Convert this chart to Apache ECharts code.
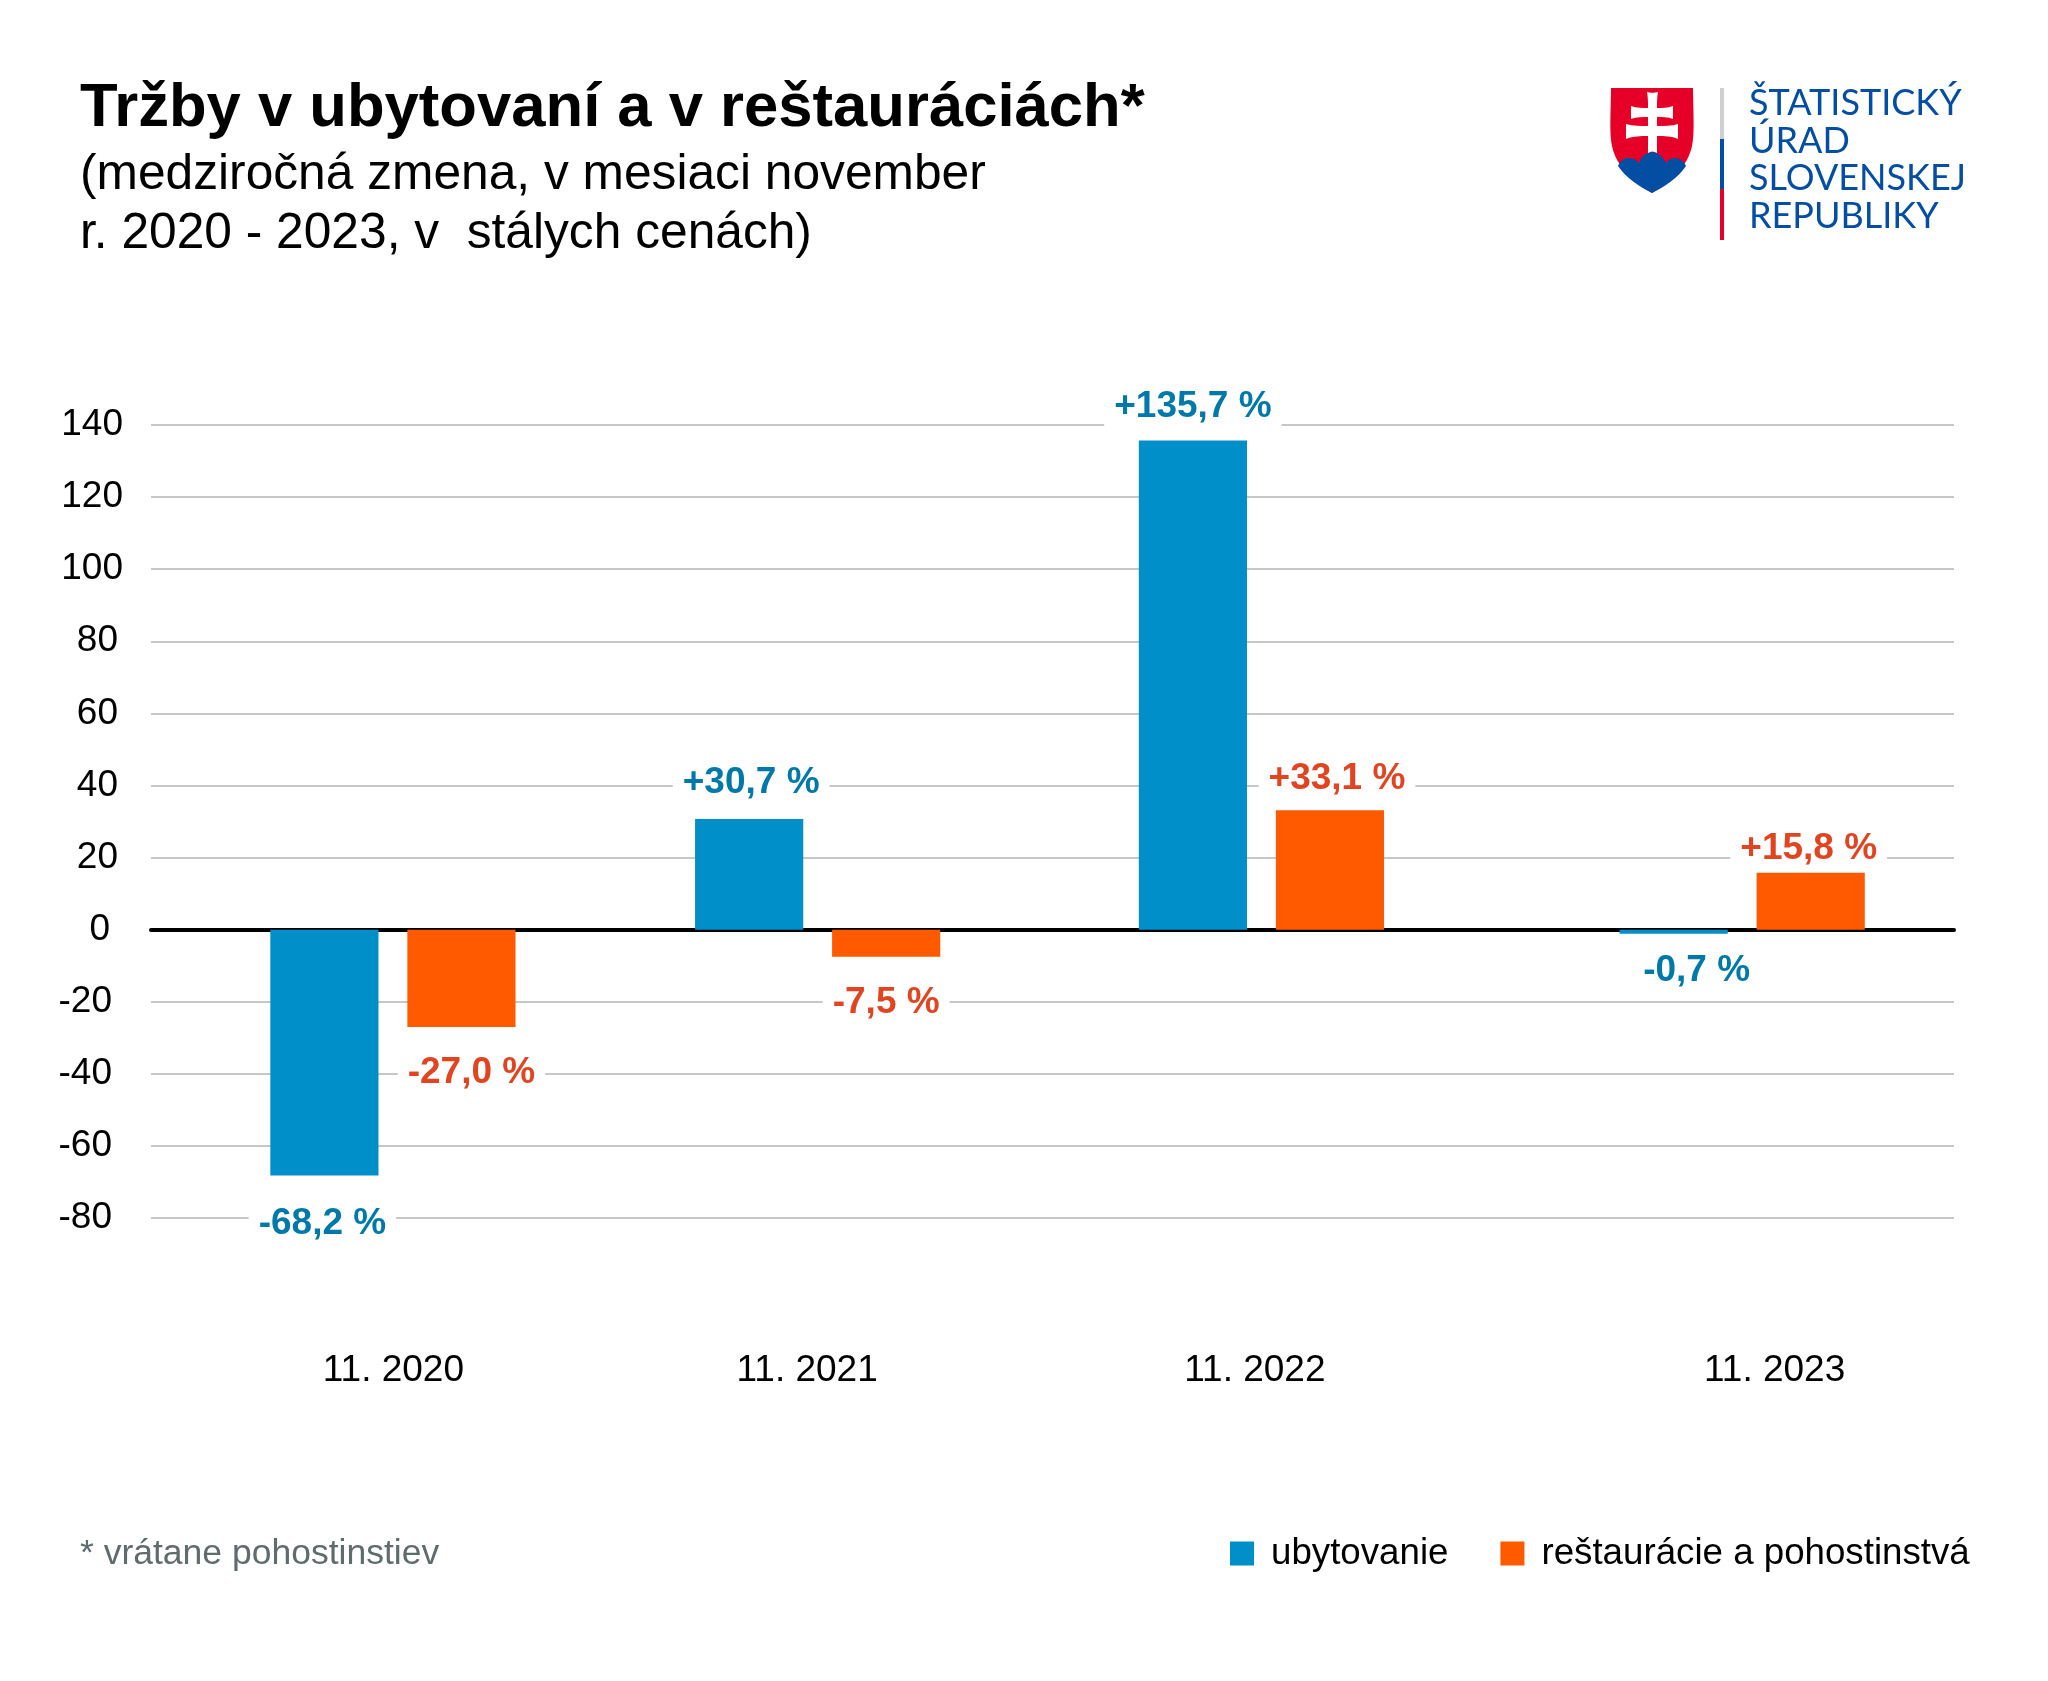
<!DOCTYPE html>
<html>
<head>
<meta charset="utf-8">
<style>html,body{margin:0;padding:0;background:#fff}#c{width:2048px;height:1681px}</style>
<script src="https://cdn.jsdelivr.net/npm/echarts@6/dist/echarts.min.js"></script>
</head>
<body>
<div id="c"></div>
<script>
const categories = ['11. 2020', '11. 2021', '11. 2022', '11. 2023'];
const ubytovanie = [-68.2, 30.7, 135.7, -0.7];
const restauracie = [-27.0, -7.5, 33.1, 15.8];
const seriesNames = ['ubytovanie', 'reštaurácie a pohostinstvá'];
const titleText = 'Tržby v ubytovaní a v reštauráciách*';
const subtitleText = '(medziročná zmena, v mesiaci november\nr. 2020 - 2023, v  stálych cenách)';
const footnoteText = '* vrátane pohostinstiev';
const logoLines = ['ŠTATISTICKÝ', 'ÚRAD', 'SLOVENSKEJ', 'REPUBLIKY'];

// layout nudges (px), separate from the data
const groupNudge = [17, -9, -16, 14];
const tickNudge = [17, -20, -23, 46];
const labelDx = [[-2, 2, 0, 23], [10, 0, 7, -2]];
const labelGap = [[48, 36, 34, 37], [46, 46, 32, 24]];

const FONT = '"Liberation Sans", Arial, sans-serif';
const BLUE = '#008FC8', ORANGE = '#FF5A00', BLUE_T = '#0079A8', ORANGE_T = '#E04420';

function fmt(v) { return (v > 0 ? '+' : '') + v.toFixed(1).replace('.', ',') + ' %'; }

function barRender(seriesIdx, color, textColor) {
  return function (params, api) {
    const i = api.value(0), v = api.value(1);
    const band = api.size([1, 0])[0];
    const w = band * 0.24;
    const base = api.coord([i, 0]);
    const end = api.coord([i, v]);
    const cx = base[0] + groupNudge[i] + (seriesIdx === 0 ? -band * 0.153 : band * 0.151);
    const top = Math.min(base[1], end[1]), h = Math.max(Math.abs(end[1] - base[1]), 4);
    const ly = v >= 0 ? top - labelGap[seriesIdx][i] : top + h + labelGap[seriesIdx][i];
    return {
      type: 'group',
      children: [
        { type: 'rect', shape: { x: cx - w / 2, y: top, width: w, height: h }, style: { fill: color } },
        { type: 'text', z2: 5, style: {
            text: fmt(v), x: cx + labelDx[seriesIdx][i], y: ly, align: 'center', verticalAlign: 'middle',
            fill: textColor, font: 'bold 37px ' + FONT, backgroundColor: '#fff', padding: [1, 10, 1, 10]
        } }
      ]
    };
  };
}

echarts.graphic.registerShape('shieldBase', echarts.graphic.extendPath('M1 0H83C83 22 85 44 82 58C78 78 60 95 42 105C24 95 6 78 2 58C-1 44 1 22 1 0Z', {}));
echarts.graphic.registerShape('shieldHills', echarts.graphic.extendPath('M8 78C10 73 14 70 18 70C23 70 27 72 29 75C31 69 36 64 42 64C48 64 53 69 56 75C58 72 61 70 65 70C70 70 74 73 76 78C68 90 54 99 42 105C30 99 16 90 8 78Z', {}));
echarts.graphic.registerShape('shieldCross', echarts.graphic.extendPath('M37 4C40 5 45 5 48 4C47 9 47 14 47 20C52 20 58 20 63 18V31C58 29 52 29 47 29V38C54 38 62 38 68 36V51C62 48 54 48 47 48V65C44 63 41 63 38 65V48C31 48 23 48 16 51V36C23 38 31 38 38 38V29C32 29 27 29 21 31V18C27 20 32 20 38 20C38 14 38 9 37 4Z', {}));

const logoX = 1610, logoY = 88;
const logoGraphic = [
  { type: 'shieldBase', x: logoX, y: logoY, style: { fill: '#E60028' } },
  { type: 'shieldHills', x: logoX, y: logoY, style: { fill: '#034EA2' } },
  { type: 'shieldCross', x: logoX, y: logoY, style: { fill: '#fff' } },
  { type: 'rect', shape: { x: 1720, y: 88, width: 4, height: 51 }, style: { fill: '#CDCFD0' } },
  { type: 'rect', shape: { x: 1720, y: 139, width: 4, height: 50 }, style: { fill: '#034EA2' } },
  { type: 'rect', shape: { x: 1720, y: 189, width: 4, height: 51 }, style: { fill: '#E60028' } }
].concat(logoLines.map((t, i) => ({
  type: 'text',
  style: { text: t, x: 1749, y: [85, 123, 160, 198][i], fill: '#034EA2', font: '36px Lato, sans-serif' }
})));

const chart = echarts.init(document.getElementById('c'), null, { renderer: 'canvas' });
chart.setOption({
  animation: false,
  backgroundColor: '#fff',
  title: [
    { text: titleText, left: 80, top: 78, padding: 0, textStyle: { fontFamily: FONT, fontWeight: 'bold', fontSize: 61.6, color: '#000' } },
    { text: subtitleText, left: 80, top: 146, padding: 0, textStyle: { fontFamily: FONT, fontWeight: 'normal', fontSize: 49.7, lineHeight: 59, color: '#000' } },
    { text: footnoteText, left: 80, top: 1536, padding: 0, textStyle: { fontFamily: FONT, fontWeight: 'normal', fontSize: 35.5, color: '#5F6B6D' } }
  ],
  grid: { left: 151, top: 425, width: 1803, height: 793, containLabel: false },
  legend: {
    left: 1230, top: 1535, padding: 0, itemWidth: 24, itemHeight: 24, itemGap: 52, icon: 'rect',
    data: seriesNames,
    textStyle: { fontFamily: FONT, fontSize: 36.7, color: '#000', padding: [0, 0, 0, 12] }
  },
  xAxis: {
    type: 'category',
    data: categories.map((c, i) => ({
      value: c,
      textStyle: tickNudge[i] > 0 ? { padding: [0, 0, 0, 2 * tickNudge[i]] } : { padding: [0, -2 * tickNudge[i], 0, 0] }
    })),
    axisTick: { show: false },
    axisLine: { onZero: true, lineStyle: { color: '#000', width: 4 } },
    axisLabel: { interval: 0, margin: 134, fontFamily: FONT, fontSize: 37, color: '#000' }
  },
  yAxis: {
    type: 'value', min: -80, max: 140, interval: 20,
    axisLine: { show: false }, axisTick: { show: false },
    splitLine: { lineStyle: { color: '#B4B4B4', width: 1.5 } },
    axisLabel: {
      margin: 28, fontFamily: FONT, fontSize: 37, color: '#000', align: 'right',
      formatter: v => {
        const k = v >= 100 ? 'h' : v > 0 ? 't' : v === 0 ? 'z' : 'n';
        return '{' + k + '|' + v + '}';
      },
      rich: {
        h: { fontFamily: FONT, fontSize: 37, color: '#000', padding: [0, 0, 0, 0] },
        t: { fontFamily: FONT, fontSize: 37, color: '#000', padding: [0, 5, 0, 0] },
        n: { fontFamily: FONT, fontSize: 37, color: '#000', padding: [0, 11, 0, 0] },
        z: { fontFamily: FONT, fontSize: 37, color: '#000', padding: [0, 13, 0, 0] }
      }
    }
  },
  series: [
    { name: seriesNames[0], type: 'custom', itemStyle: { color: BLUE }, clip: false, z: 3,
      encode: { x: 0, y: 1 }, data: ubytovanie.map((v, i) => [i, v]), renderItem: barRender(0, BLUE, BLUE_T) },
    { name: seriesNames[1], type: 'custom', itemStyle: { color: ORANGE }, clip: false, z: 3,
      encode: { x: 0, y: 1 }, data: restauracie.map((v, i) => [i, v]), renderItem: barRender(1, ORANGE, ORANGE_T) }
  ],
  graphic: { elements: logoGraphic }
});
</script>
</body>
</html>
